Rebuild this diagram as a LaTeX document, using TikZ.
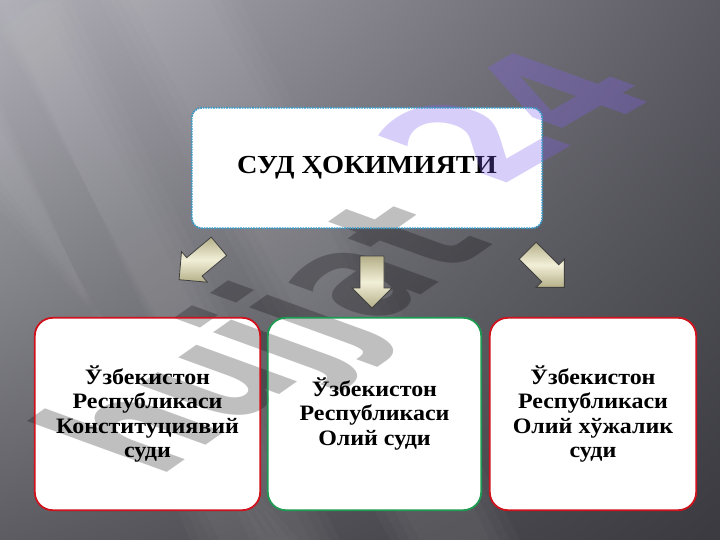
\documentclass[tikz,border=0pt]{standalone}
\usepackage{fontspec}
\setmainfont{Liberation Serif}[FakeStretch=1.09]
\newfontfamily\wmfont{DejaVu Sans}
\usetikzlibrary{shapes.arrows,shadings}
\definecolor{bgUL}{HTML}{B0AFB7}
\definecolor{bgUR}{HTML}{5C5B63}
\definecolor{bgLL}{HTML}{5C5C62}
\definecolor{bgLR}{HTML}{3A3A40}
\definecolor{topborder}{HTML}{3C9AC8}
\definecolor{redborder}{HTML}{D0121C}
\definecolor{greenborder}{HTML}{1E9A52}
\definecolor{arrowlight}{HTML}{F2EFD8}
\definecolor{arrowdark}{HTML}{B4AF88}
\definecolor{wmpurple}{HTML}{8060F0}
\tikzset{
  topbox/.style={fill=white, rounded corners=10pt, minimum width=350pt, minimum height=120pt,
    font=\fontsize{26}{30}\selectfont\bfseries},
  topline/.style={draw=topborder, line width=1.8pt, dash pattern=on 1.6pt off 1pt, rounded corners=10pt},
  lowbox/.style={fill=white, rounded corners=18pt,
    minimum height=192pt, align=center, inner sep=2pt,
    font=\fontsize{22}{24.5}\selectfont\bfseries},
  lowline/.style={line width=1.8pt, rounded corners=18pt},
  barrow/.pic={
    \shade[top color=arrowdark, bottom color=arrowdark, middle color=arrowlight,
      draw=black!75, line width=0.8pt]
      (-26,-12) -- (6,-12) -- (6,-20) -- (26,0) -- (6,20) -- (6,12) -- (-26,12) -- cycle;
  },
  watermark/.style={font=\wmfont\fontsize{100}{100}\selectfont\bfseries, inner sep=0pt,
    anchor=base west},
  streak/.style={fill=white, opacity=0.022}
}
\begin{document}
\begin{tikzpicture}[x=1pt,y=-1pt]
\useasboundingbox (0,0) rectangle (720,540);
% background
\shade[upper left=bgUL, upper right=bgUR, lower left=bgLL, lower right=bgLR]
  (0,0) rectangle (720,540);
\foreach \d in {0,10,20,30} {
  \fill[streak] (100+\d,0) -- (240-\d,0) -- (520-\d,540) -- (390+\d,540) -- cycle;
  \fill[streak] (0,100+\d) -- (0,210-\d) -- (300-\d,540) -- (190+\d,540) -- cycle;
  \fill[streak] (0,0+\d) -- (70-\d,0) -- (340-\d,540) -- (250+\d,540) -- cycle;
}
% top box
\node[topbox] (top) at (367,168) {СУД ҲОКИМИЯТИ};
% bottom boxes
\node[lowbox, minimum width=225pt] (b1) at (147.5,414)
  {Ўзбекистон\\Республикаси\\Конституциявий\\суди};
\node[lowbox, minimum width=213pt] (b2) at (374.5,414)
  {Ўзбекистон\\Республикаси\\Олий суди};
\node[lowbox, minimum width=206pt] (b3) at (593,414)
  {Ўзбекистон\\Республикаси\\Олий хўжалик\\суди};
% watermark (slanted word art)
\begin{scope}[shift={(158,479)}]
\node[watermark, cm={1.037,0.727,-1.842,0.670,(0,0)}] (wm1) at (0,0)
  {\pgfsetfillopacity{0.25}\textcolor{black}{hujjat}};
\end{scope}
\begin{scope}[shift={(497,189)}]
\node[watermark, cm={1.212,0.70,-1.842,0.670,(0,0)}] (wm2) at (0,0)
  {\pgfsetfillopacity{0.3}\textcolor{wmpurple}{24}};
\end{scope}
% borders
\draw[topline] (top.south west) rectangle (top.north east);
\draw[lowline, draw=redborder] (b1.south west) rectangle (b1.north east);
\draw[lowline, draw=greenborder] (b2.south west) rectangle (b2.north east);
\draw[lowline, draw=redborder] (b3.south west) rectangle (b3.north east);
% block arrows
\pic[rotate=220] at (199,263) {barrow};
\pic[rotate=-90] at (372,282) {barrow};
\pic[rotate=-45] at (546,269) {barrow};
\end{tikzpicture}
\end{document}
